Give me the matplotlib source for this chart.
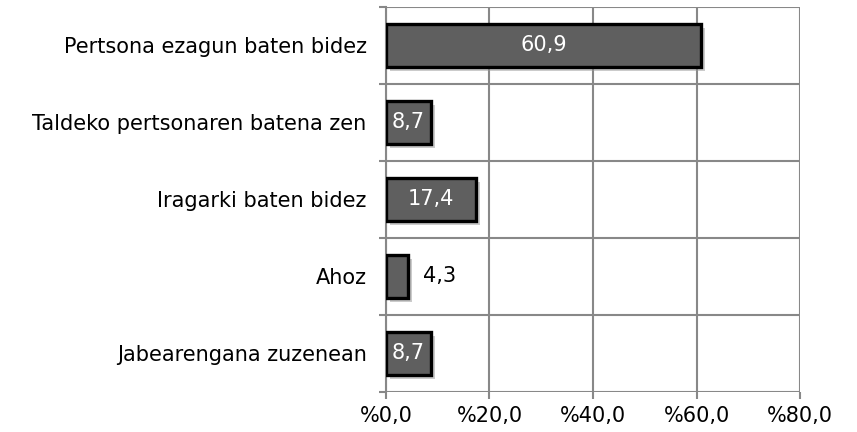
import matplotlib.pyplot as plt
import matplotlib.patheffects as pe
from matplotlib.ticker import FixedLocator

categories = ['Pertsona ezagun baten bidez', 'Taldeko pertsonaren batena zen',
              'Iragarki baten bidez', 'Ahoz', 'Jabearengana zuzenean']
values = [60.9, 8.7, 17.4, 4.3, 8.7]
labels = ['60,9', '8,7', '17,4', '4,3', '8,7']
xticks = [0, 20, 40, 60, 80]
xticklabels = ['%0,0', '%20,0', '%40,0', '%60,0', '%80,0']

plt.rcParams['font.family'] = ['DejaVu Sans']
fs = 15

fig = plt.figure(figsize=(8.57, 4.32), dpi=100)
ax = fig.add_axes([0.4504, 0.0926, 0.4831, 0.8912])

y = list(range(len(categories)))
bars = ax.barh(y, values, height=0.56, color='#5f5f5f', edgecolor='black',
               linewidth=2.4, zorder=3)
for b in bars:
    b.set_path_effects([pe.SimplePatchShadow(offset=(3, -3), shadow_rgbFace='#999999', alpha=0.5),
                        pe.Normal()])

for yi, v, lab in zip(y, values, labels):
    if v > 6:
        ax.text(v / 2, yi, lab, ha='center', va='center', color='white', fontsize=fs, zorder=4)
    else:
        ax.text(v + 2.8, yi, lab, ha='left', va='center', color='black', fontsize=fs, zorder=4)

ax.set_xlim(0, 80)
ax.set_ylim(len(categories) - 0.5, -0.5)
ax.set_xticks(xticks)
ax.set_xticklabels(xticklabels, fontsize=fs)
ax.set_yticks(y)
ax.set_yticklabels(categories, fontsize=fs)
ax.yaxis.set_minor_locator(FixedLocator([i - 0.5 for i in range(len(categories) + 1)]))
ax.tick_params(axis='y', which='major', length=0, pad=14)
ax.tick_params(axis='y', which='minor', length=5, color='#888888', width=1.5)
ax.tick_params(axis='x', length=5, color='#888888', width=1.5, pad=5)

ax.grid(axis='x', which='major', color='#888888', linewidth=1.5, zorder=0)
ax.grid(axis='y', which='minor', color='#888888', linewidth=1.5, zorder=0)
ax.set_axisbelow(True)

for s in ['top', 'right', 'bottom']:
    ax.spines[s].set_visible(False)
ax.spines['left'].set_color('#888888')
ax.spines['left'].set_linewidth(1.5)

fig.savefig('out.png', dpi=100)
